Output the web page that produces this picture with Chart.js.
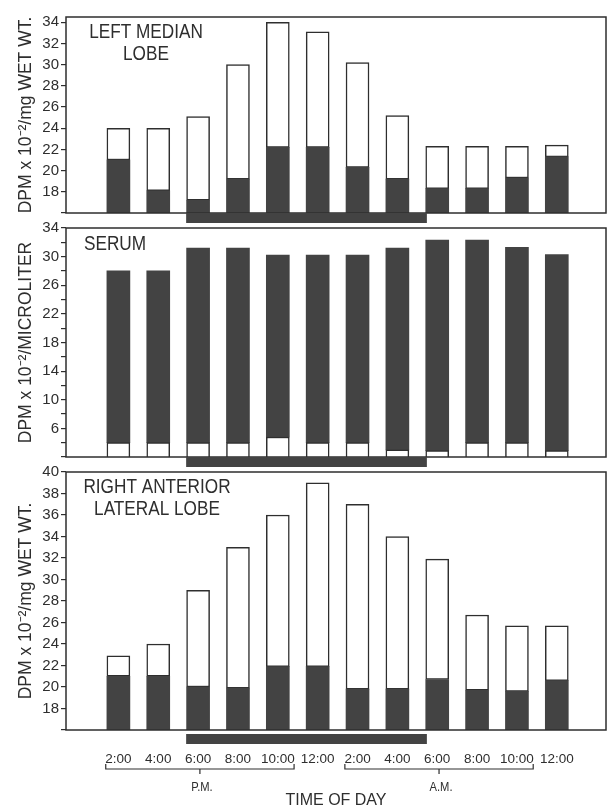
<!DOCTYPE html>
<html>
<head>
<meta charset="utf-8">
<script src="https://cdn.jsdelivr.net/npm/chart.js@4.4.1/dist/chart.umd.min.js"></script>
<style>
  body { margin: 0; background: #fff; }
  #wrap { position: relative; width: 608px; height: 810px; overflow: hidden; background: #fff; }
  canvas { position: absolute; left: 0; }
</style>
</head>
<body>
<div id="wrap">
  <canvas id="c1" width="608" height="232" style="top:0px"></canvas>
  <canvas id="c2" width="608" height="256" style="top:216px"></canvas>
  <canvas id="c3" width="608" height="350" style="top:460px"></canvas>
</div>
<script>
// time of day for each sample (P.M. first six, A.M. last six)
const timeLabels = ['2:00', '4:00', '6:00', '8:00', '10:00', '12:00', '2:00', '4:00', '6:00', '8:00', '10:00', '12:00'];

// left median lobe: dark part and full bar height
const leftDark  = [21.0, 18.1, 17.2, 19.2, 22.2, 22.2, 20.3, 19.2, 18.3, 18.3, 19.3, 21.3];
const leftTotal = [24.0, 24.0, 25.1, 30.0, 34.0, 33.1, 30.2, 25.2, 22.3, 22.3, 22.3, 22.4];

// serum: white part at the bottom, full bar height
const serumWhite = [4.0, 4.0, 4.0, 4.0, 4.8, 4.0, 4.0, 3.0, 2.9, 4.0, 4.0, 2.9];
const serumTotal = [28.0, 28.0, 31.2, 31.2, 30.2, 30.2, 30.2, 31.2, 32.3, 32.3, 31.3, 30.3];

// right anterior lateral lobe
const rightDark  = [21.0, 21.0, 20.0, 19.9, 21.9, 21.9, 19.8, 19.8, 20.7, 19.7, 19.6, 20.6];
const rightTotal = [22.9, 24.0, 29.0, 33.0, 36.0, 39.0, 37.0, 34.0, 31.9, 26.7, 25.7, 25.7];

// dark period (6 PM - 6 AM) in sample units
const darkPeriod = [1.7, 7.74];
const pmIdx = [0, 4];
const amIdx = [6, 10];

const ink = '#2e2e2e';
const fillDark = '#434343';
const fam = "'Liberation Sans', Arial, sans-serif";
const xMin = -0.75, xMax = 11.67;

const pts = arr => arr.map((v, i) => ({x: i, y: v}));
const spans = (lo, hi) => lo.map((v, i) => ({x: i, y: [v, hi[i]]}));

// narrow lettering: regular font squeezed a bit sideways
function narrowText(ctx, txt, x, y, size, align) {
  ctx.save();
  ctx.font = size + 'px ' + fam;
  ctx.textAlign = align;
  ctx.textBaseline = 'middle';
  ctx.translate(x, y);
  ctx.scale(0.86, 1);
  ctx.fillText(txt, 0, 0);
  ctx.restore();
}

const panelDecor = {
  id: 'panelDecor',
  afterDatasetsDraw(chart, args, o) {
    const {ctx, chartArea: a} = chart;
    const x = chart.scales.x;
    ctx.save();
    ctx.strokeStyle = ink;
    ctx.lineWidth = 1.5;
    ctx.strokeRect(a.left, a.top, a.width, a.height);
    const x0 = x.getPixelForValue(darkPeriod[0]);
    const x1 = x.getPixelForValue(darkPeriod[1]);
    ctx.fillStyle = fillDark;
    ctx.fillRect(x0, a.bottom + o.bandGap, x1 - x0, 10);
    ctx.fillStyle = ink;
    o.title.forEach((line, k) => narrowText(ctx, line, o.tx, a.top + o.ty + k * 22, 20, o.align));
    if (o.brackets) {
      ctx.font = '13px ' + fam;
      const y = a.bottom + 39;
      [[pmIdx, 'P.M.'], [amIdx, 'A.M.']].forEach(([idx, txt]) => {
        const l = x.getPixelForValue(idx[0]) - ctx.measureText(timeLabels[idx[0]]).width / 2;
        const r = x.getPixelForValue(idx[1]) + ctx.measureText(timeLabels[idx[1]]).width / 2;
        const m = (l + r) / 2;
        ctx.lineWidth = 1.2;
        ctx.beginPath();
        ctx.moveTo(l, y - 5); ctx.lineTo(l, y); ctx.lineTo(r, y); ctx.lineTo(r, y - 5);
        ctx.moveTo(m, y); ctx.lineTo(m, y + 5);
        ctx.stroke();
        narrowText(ctx, txt, m + 2, y + 18, 13, 'center');
      });
    }
    ctx.restore();
  }
};

function yAxis(min, max, title, show) {
  return {
    min: min, max: max,
    border: {display: false},
    grid: {drawOnChartArea: false, drawTicks: true, tickLength: 5, tickColor: ink, lineWidth: 1.2},
    ticks: {stepSize: 2, includeBounds: false, autoSkip: false, color: ink, padding: 2,
            font: {size: 15, family: fam}, callback: v => show(v) ? String(v) : ''},
    title: {display: true, text: title, color: ink, font: {size: 17.5, family: fam}, padding: {top: 16, bottom: 0}},
    afterFit(s) { s.width = 66; }
  };
}

function xAxis(showTicks) {
  const ax = {
    type: 'linear', min: xMin, max: xMax,
    display: showTicks,
    border: {display: false},
    grid: {display: false, drawTicks: false},
    afterBuildTicks(s) { s.ticks = timeLabels.map((_, i) => ({value: i})); },
    ticks: {autoSkip: false, maxRotation: 0, color: ink, padding: 21,
            font: {size: 13.5, family: fam}, callback: v => timeLabels[v]}
  };
  if (showTicks) {
    ax.title = {display: true, text: 'TIME OF DAY', color: ink, font: {size: 16, family: fam}, padding: {top: 0, bottom: 0}};
    ax.afterFit = s => { s.height = 80; };
  }
  return ax;
}

function barSet(data, color, border) {
  return {data: data, backgroundColor: color, borderColor: border ? ink : color,
          borderWidth: border ? 1.5 : 0, borderSkipped: false, barThickness: 23, grouped: false};
}

function panel(id, datasets, y, padding, showX, decor) {
  return new Chart(document.getElementById(id), {
    type: 'bar',
    data: {datasets: datasets},
    options: {
      responsive: false,
      animation: false,
      layout: {padding: padding},
      scales: {x: xAxis(showX), y: y},
      plugins: {legend: {display: false}, tooltip: {enabled: false}, panelDecor: decor}
    },
    plugins: [panelDecor]
  });
}

panel('c1',
  [barSet(pts(leftDark), fillDark, false), barSet(spans(leftDark, leftTotal), '#fff', true)],
  yAxis(16, 34.5, 'DPM x 10⁻²/mg WET WT.', v => v >= 18),
  {top: 17, bottom: 19, left: 0, right: 2}, false,
  {bandGap: 0, title: ['LEFT MEDIAN', 'LOBE'], align: 'center', tx: 146, ty: 15});

panel('c2',
  [barSet(pts(serumWhite), '#fff', true), barSet(spans(serumWhite, serumTotal), fillDark, false)],
  yAxis(2, 34, 'DPM x 10⁻²/MICROLITER', v => v >= 6 && (v - 2) % 4 === 0),
  {top: 12, bottom: 15, left: 0, right: 2}, false,
  {bandGap: 0, title: ['SERUM'], align: 'left', tx: 84, ty: 16});

panel('c3',
  [barSet(pts(rightDark), fillDark, false), barSet(spans(rightDark, rightTotal), '#fff', true)],
  yAxis(16, 40, 'DPM x 10⁻²/mg WET WT.', v => v >= 18),
  {top: 12, bottom: 0, left: 0, right: 2}, true,
  {bandGap: 4, title: ['RIGHT ANTERIOR', 'LATERAL LOBE'], align: 'center', tx: 157, ty: 15, brackets: true});
</script>
</body>
</html>
